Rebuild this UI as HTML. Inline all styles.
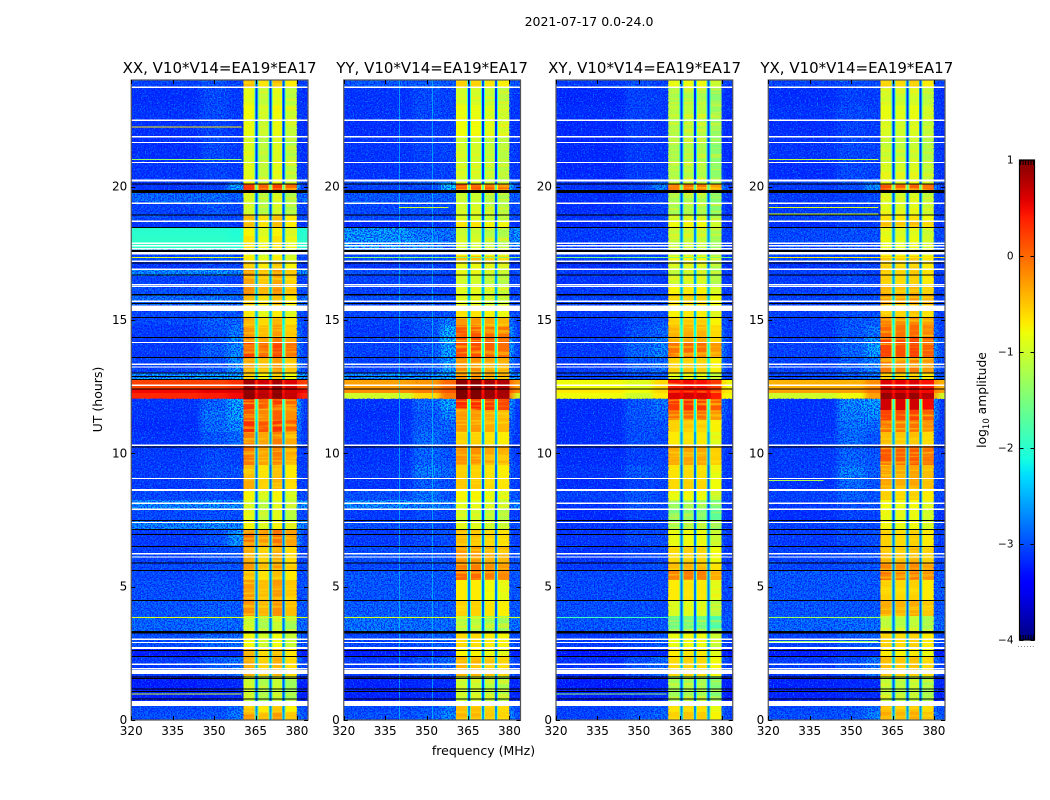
<!DOCTYPE html>
<html>
<head>
<meta charset="utf-8">
<title>2021-07-17 spectrogram</title>
<style>
html,body{margin:0;padding:0;background:#fff;}
svg{display:block;}
text{font-family:"DejaVu Sans","Liberation Sans",sans-serif;fill:#000;}
</style>
</head>
<body>
<svg id="figure" width="1050" height="800" viewBox="0 0 1050 800" xmlns="http://www.w3.org/2000/svg">
<defs id="figure-defs">
<linearGradient id="cbar-gradient" x1="0" y1="1" x2="0" y2="0"></linearGradient>
<filter id="soften-x" x="-10%" y="0" width="120%" height="100%" color-interpolation-filters="sRGB">
<feGaussianBlur stdDeviation="3 0"/>
</filter>
<filter id="grain-light" x="0" y="0" width="100%" height="100%" color-interpolation-filters="sRGB">
<feTurbulence type="fractalNoise" baseFrequency="0.75" numOctaves="1" seed="4"/>
<feColorMatrix type="matrix" values="0 0 0 0 0  0 0 0 0 0.62  0 0 0 0 1  6 0 0 0 -3"/>
</filter>
<filter id="grain-dark" x="0" y="0" width="100%" height="100%" color-interpolation-filters="sRGB">
<feTurbulence type="fractalNoise" baseFrequency="0.7" numOctaves="1" seed="11"/>
<feColorMatrix type="matrix" values="0 0 0 0 0  0 0 0 0 0.08  0 0 0 0 1  0 6 0 0 -2.6"/>
</filter>
<filter id="band-striation" x="0" y="0" width="100%" height="100%" color-interpolation-filters="sRGB">
<feTurbulence type="fractalNoise" baseFrequency="0.015 0.35" numOctaves="2" seed="7"/>
<feColorMatrix type="matrix" values="0 0 0 0 1  0 0 0 0 0.92  0 0 0 0 0.05  5 0 0 0 -2.4"/>
</filter>
</defs>
<text x="589" y="26" text-anchor="middle" font-size="12.5">2021-07-17 0.0-24.0</text>
<text x="219.6" y="73" text-anchor="middle" font-size="15">XX, V10*V14=EA19*EA17</text>
<text x="432.1" y="73" text-anchor="middle" font-size="15">YY, V10*V14=EA19*EA17</text>
<text x="644.6" y="73" text-anchor="middle" font-size="15">XY, V10*V14=EA19*EA17</text>
<text x="856.8" y="73" text-anchor="middle" font-size="15">YX, V10*V14=EA19*EA17</text>
<text x="483.5" y="755" text-anchor="middle" font-size="12.5">frequency (MHz)</text>
<text transform="translate(102,399.5) rotate(-90)" text-anchor="middle" font-size="12.5">UT (hours)</text>
<text transform="translate(986,400) rotate(-90)" text-anchor="middle" font-size="12.3">log<tspan font-size="8.5" dy="3">10</tspan><tspan dy="-3"> amplitude</tspan></text>
<text x="1026.5" y="647" text-anchor="middle" font-size="6" letter-spacing="1" fill="#555">......</text>
<g id="panels"></g>
<g id="colorbar"></g>
</svg>
<script>
// UT row boundaries, top of the plot to the bottom
const rowEdges = [24,23.7,23.06,22.5,21.86,20.93,20.25,20.1,19.88,19.76,19.39,18.94,18.71,18.45,18.15,17.63,17.4,17.18,16.88,16.65,16.31,15.94,15.56,15.11,14.81,14.36,14.14,13.58,13.01,12.79,12.41,12.26,12.04,11.63,11.25,10.8,10.31,9.56,9.08,8.63,8.25,7.88,7.5,7.13,6.53,5.89,5.59,5.25,4.5,3.9,3.3,2.7,2.4,1.65,0.71,0.53,0.3,0];

// log10 amplitude per row: low = 320-345 MHz, mid = 345-355, wing = 355-360.6, band = 360.6-380
const xxLow = [-3,-3.15,-3.1,-3.15,-3.15,-3.1,-3.1,-3.1,-3,-2.75,-3,-2.95,-3.1,-2,-1.98,-3,-2.95,-3.1,-2.5,-3,-2.9,-2.7,-2.95,-2.95,-3.05,-3.05,-3.05,-3,-2.4,0.2,0.5,0.35,-3.1,-3.1,-3.15,-3.1,-3.05,-3.05,-3.05,-2.95,-2.5,-2.95,-2.55,-3.05,-3,-2.95,-2.95,-2.9,-2.85,-2.75,-2.9,-3.3,-3.05,-3.3,-3.2,-2.95,-2.9];
const xxMid = [-2.9,-2.95,-2.95,-3,-2.95,-3,-3,-3,-2.9,-2.7,-2.85,-2.9,-3,-2,-1.98,-2.9,-2.85,-3,-2.45,-2.95,-2.8,-2.65,-2.85,-2.8,-2.85,-2.9,-2.8,-2.85,-2.4,0.2,0.55,0.4,-2.75,-2.65,-2.7,-2.85,-2.95,-2.9,-2.95,-2.9,-2.45,-2.9,-2.5,-2.9,-2.9,-2.85,-2.9,-2.85,-2.8,-2.7,-2.75,-3.2,-2.8,-3.25,-3.2,-2.9,-2.85];
const xxWing = [-3,-3.05,-3.05,-3.1,-3.05,-3.05,-2.6,-2.35,-2.6,-2.8,-2.95,-2.95,-3.05,-2.05,-2.02,-3,-2.9,-3,-2.5,-3,-2.85,-2.7,-2.85,-2.75,-2.6,-2.5,-2.5,-2.5,-2.3,0.3,0.6,0.5,-2.3,-2.35,-2.5,-2.7,-3,-2.9,-3,-2.95,-2.45,-2.9,-2.5,-2.4,-2.85,-2.85,-2.95,-2.9,-2.8,-2.7,-2.7,-3.2,-2.65,-3.2,-3.2,-2.7,-2.6];
const xxBand = [-0.55,-1,-0.9,-0.95,-1.05,-1,-0.9,0.15,0,-1.05,-1.1,-0.55,-0.55,-0.85,-0.75,-0.95,-0.8,-0.6,-0.35,-0.4,-0.3,-0.55,-0.8,-0.5,-0.35,-0.2,0.1,-0.35,-0.65,0.75,0.8,0.85,0.15,-0.05,0.2,-0.2,-0.2,-0.55,-0.45,-0.85,-1.05,-1,-0.85,-0.15,-0.45,-0.35,-0.55,-0.35,-0.3,-1.15,-0.9,-0.5,-0.45,-1.15,-1,-0.6,-0.35];

const yyLow = [-2.85,-3.1,-3.1,-3.15,-3.1,-3.1,-2.9,-3,-3,-2.85,-2.95,-2.95,-3.2,-2.4,-2.4,-3,-2.9,-3.1,-2.9,-3,-3,-2.9,-2.95,-3,-3.05,-3,-3,-3,-2.5,-0.3,-0.2,-1,-3.1,-3.15,-3.1,-3.1,-3.1,-3.05,-3.1,-2.9,-2.5,-3.05,-2.9,-3.05,-2.9,-2.95,-2.85,-2.85,-2.8,-2.65,-2.95,-3.3,-3.05,-3.25,-3.2,-2.95,-2.9];
const yyMid = [-2.8,-2.95,-2.95,-3.05,-3,-3,-2.8,-2.95,-2.95,-2.8,-2.9,-2.9,-3.1,-2.6,-2.55,-2.95,-2.85,-3,-2.85,-2.95,-2.95,-2.85,-2.9,-2.85,-2.9,-2.85,-2.85,-2.85,-2.5,-0.25,-0.1,-0.6,-2.75,-2.85,-2.8,-2.7,-2.75,-2.6,-2.8,-2.65,-2.55,-2.95,-2.85,-2.95,-2.9,-2.9,-2.85,-2.85,-2.8,-2.7,-2.85,-3.25,-2.9,-3.2,-3.2,-2.85,-2.8];
const yyWing = [-2.85,-3,-3,-3.05,-3,-3,-2.4,-2.2,-2.5,-2.8,-2.95,-2.9,-3.05,-2.65,-2.7,-3,-2.9,-3.05,-2.95,-3,-3,-2.9,-2.85,-2.6,-2.25,-2.2,-2.3,-2.35,-2.3,0,0.1,-0.1,-2.3,-2.5,-2.75,-2.85,-2.85,-2.75,-2.9,-2.85,-2.6,-3,-2.95,-2.9,-2.9,-2.85,-2.85,-2.85,-2.85,-2.7,-2.8,-3.2,-2.7,-3.2,-3.2,-2.6,-2.5];
const yyBand = [-0.6,-1.05,-0.9,-0.85,-1.05,-1.05,-1,0.1,0,-1.1,-1.05,-1,-0.7,-1.1,-1.05,-0.8,-0.5,-0.9,-0.95,-1.05,-0.95,-0.95,-0.7,-0.3,0.05,0.1,0.1,-0.25,-0.25,0.9,0.95,0.95,0.3,-0.3,-0.3,-0.6,-0.25,-0.6,-0.55,-0.8,-0.95,-1.05,-0.95,-0.5,-0.3,-0.15,-0.05,-0.75,-0.6,-1.2,-0.65,-0.8,-0.45,-1.1,-1,-0.5,-0.45];

const xyLow = [-3.05,-3.2,-3.15,-3.2,-3.2,-3.2,-3.1,-3.1,-3.1,-3.15,-3.15,-3.1,-3.2,-3.05,-3.05,-3.05,-3,-3.15,-3.05,-3.1,-3.05,-3,-3.05,-3.05,-3.1,-3.05,-3.05,-3.05,-3,-0.8,-0.7,-0.8,-3.15,-3.15,-3.15,-3.15,-3.15,-3.1,-3.15,-3,-3.1,-3.2,-3.1,-3.1,-3.1,-3.05,-2.95,-2.95,-2.9,-2.85,-3.05,-3.35,-3.15,-3.3,-3.2,-3,-3];
const xyMid = [-2.9,-3,-3,-3.05,-3.05,-3.05,-3,-3,-3,-3.05,-3.05,-3,-3.1,-3,-3,-3,-2.95,-3.05,-3,-3,-3,-2.95,-2.95,-2.95,-2.9,-2.85,-2.75,-2.8,-2.9,-0.9,-0.8,-1,-2.85,-2.85,-2.9,-2.9,-3,-2.85,-3,-2.85,-2.85,-3.05,-3,-2.95,-3,-2.95,-2.95,-2.95,-2.9,-2.85,-2.95,-3.25,-2.9,-3.25,-3.2,-2.9,-2.85];
const xyWing = [-3,-3.05,-3.05,-3.1,-3.1,-3.05,-2.8,-2.55,-2.8,-3,-3,-3,-3.1,-3,-3,-3.05,-3,-3.05,-3,-3.05,-3,-2.95,-2.95,-2.85,-2.75,-2.6,-2.55,-2.7,-2.8,-0.6,-0.6,-0.7,-2.65,-2.75,-2.9,-2.95,-3,-2.95,-3,-2.95,-2.95,-3.05,-3,-2.95,-2.95,-2.9,-2.95,-2.95,-2.95,-2.85,-2.85,-3.25,-2.75,-3.2,-3.2,-2.8,-2.75];
const xyBand = [-0.85,-1.25,-1.15,-1.2,-1.25,-1.2,-1.1,-0.1,-0.1,-1.25,-1.25,-1,-0.8,-1.1,-1.1,-1.05,-0.8,-1,-1.1,-1,-0.75,-0.6,-0.75,-0.55,-0.4,-0.4,-0.05,-0.55,-0.9,0.45,0.4,0.6,0.25,-0.05,-0.55,-0.7,-0.35,-0.65,-0.6,-0.85,-1.35,-1.5,-1.3,-0.85,-0.6,-0.45,-0.15,-0.7,-0.95,-1.6,-0.85,-0.7,-0.6,-1.3,-1.2,-0.65,-0.55];

const yxLow = [-3,-3.15,-3.1,-3.15,-3.1,-3.15,-2.95,-3.05,-3.05,-3.05,-3.05,-3,-3.15,-2.95,-2.95,-3,-2.95,-3.1,-3,-3.05,-3,-3,-3,-3.05,-3.05,-3,-3,-3,-2.95,-0.4,-0.3,-1,-3.1,-3.1,-3.1,-3.05,-3.05,-3.05,-3.1,-3,-3.05,-3.15,-3,-3.05,-3,-2.95,-2.85,-2.85,-2.85,-2.75,-3,-3.3,-3.05,-3.25,-3.2,-2.95,-2.9];
const yxMid = [-2.9,-3,-2.95,-3,-2.95,-2.95,-2.9,-2.95,-3,-3,-3,-2.95,-3.05,-2.9,-2.9,-2.95,-2.9,-3,-2.95,-2.95,-2.95,-2.9,-2.9,-2.85,-2.85,-2.75,-2.75,-2.8,-2.8,-0.4,-0.3,-0.8,-2.5,-2.55,-2.65,-2.7,-2.75,-2.55,-2.7,-2.75,-2.9,-3,-2.9,-2.95,-2.95,-2.9,-2.85,-2.85,-2.85,-2.7,-2.85,-3.2,-2.9,-3.2,-3.2,-2.9,-2.85];
const yxWing = [-2.95,-3.05,-3,-3.05,-3,-3,-2.7,-2.45,-2.7,-2.95,-3,-2.95,-3.05,-2.9,-2.9,-3,-2.95,-3,-3,-3,-2.95,-2.9,-2.9,-2.8,-2.65,-2.4,-2.35,-2.55,-2.6,-0.2,-0.1,-0.3,-2.35,-2.45,-2.7,-2.85,-2.85,-2.8,-2.85,-2.85,-2.85,-3,-2.95,-2.9,-2.9,-2.85,-2.85,-2.85,-2.85,-2.7,-2.75,-3.2,-2.65,-3.2,-3.2,-2.7,-2.55];
const yxBand = [-0.6,-1.05,-0.9,-1,-1.1,-1,-0.9,0.1,0.1,-1,-0.95,-0.7,-0.5,-0.95,-0.9,-0.8,-0.55,-0.6,-0.55,-0.6,-0.45,-0.3,-0.55,-0.2,-0.05,0.15,0.15,-0.15,-0.6,0.55,0.6,0.85,0.6,0.15,-0.1,-0.5,0.05,-0.35,-0.35,-0.6,-0.85,-0.9,-0.85,-0.6,-0.45,-0.2,-0.1,-0.6,-0.4,-1.15,-0.6,-0.75,-0.5,-1.15,-1,-0.5,-0.4];

// Level of the narrow channels between the four sub-bands, per row
const gapLevels = [-3,-3.15,-3.15,-3.15,-3.15,-3.15,-2.9,-1.7,-2.2,-3,-3.05,-3,-3,-2.7,-2.7,-3,-2.6,-2.8,-2.5,-2.6,-2.5,-2.4,-2.5,-2.2,-2.1,-2.1,-2.1,-2.2,-2.3,0.3,0.45,0.5,-2.1,-2.2,-2.3,-2.6,-2.7,-2.9,-2.95,-3,-3.05,-3.05,-2.95,-2.8,-2.8,-2.8,-2.7,-2.8,-2.95,-2.85,-2.6,-2.7,-2.5,-2.95,-2.9,-2.7,-2.6];

// Per sub-band offsets to each panel's band level
const xxBandTilt = [0.1,-0.1,0.1,-0.15];
const yyBandTilt = [0.05,0.05,-0.05,-0.12];
const xyBandTilt = [0,0.05,0.02,-0.2];
const yxBandTilt = [0.05,0,0.05,-0.1];

// Single-row interference: UT, start MHz, end MHz, level
const xxStreaks = [[22.26,320,360,-0.7],[21.03,320,360,-1.4],[17.37,320,360.6,-0.9],[1,320,360,-1],[3.87,320,384,-0.9]];
const yyStreaks = [[17.37,320,384,-1.4],[3.87,320,384,-0.95],[3.34,320,384,-1.1],[19.24,340,358,-1]];
const xyStreaks = [[17.37,320,384,-1.5],[3.87,320,360.6,-1.9],[3.34,320,360.6,-1.7],[1,320,360,-1.4]];
const yxStreaks = [[21.03,320,360,-1.1],[19.24,320,360,-0.9],[18.99,320,360,-1],[17.37,320,384,-0.7],[3.87,320,360.6,-1.3],[3.34,320,384,-1.1],[9,320,340,-1.2],[2.96,320,360,-1.4]];

// Constant-frequency interference seen only in YY (MHz)
const yyVerticalLines = [340,352];
const verticalLineLevel = -2.25;

// Flagged integrations, shared by all panels (UT)
const whiteLines = [23.73,22.49,21.87,21.66,20.91,19.38,18.7,17.88,17.78,17.67,17.2,16.9,16.32,16.26,15.7,14.16,13.34,13.24,12.55,10.3,9.06,8.13,7.9,7.41,6.24,6.11,3.03,2.91,2.09,1.92];
const whiteSpans = [[20.26,20.19],[17.56,17.45],[15.54,15.34],[8.66,8.58],[2.74,2.66],[1.875,1.725],[0.71,0.525]];
const blackLines = [20.1,18.93,18.46,17.13,16.68,15.61,15.1,14.35,13.6,13.01,12.89,12.76,12.41,10.23,7.49,7.15,6.96,6.51,5.88,5.61,4.49,2.6,2.39,1.62,1.56,1.17,1.06,0.79];
const blackSpans = [[19.88,19.76],[17.63,17.55],[15.98,15.92],[3.33,3.25]];

// Axis ticks
const freqTicks = [320,335,350,365,380];
const utTicks = [0,5,10,15,20];
const colorbarValues = [1,0,-1,-2,-3,-4];
const colorbarLabels = ['1','0','\u22121','\u22122','\u22123','\u22124'];
const panelNames = ['xx','yy','xy','yx'];
const panelLeftEdges = [131.25,343.75,556,768.25];

const SVG_NS = 'http://www.w3.org/2000/svg';
const FREQ_MIN = 320, FREQ_MAX = 384, UT_MAX = 24;
const PANEL_W = 176.75, PLOT_TOP = 80, PLOT_BOTTOM = 720;
const panelSeries = [
  {low:xxLow,mid:xxMid,wing:xxWing,band:xxBand,tilt:xxBandTilt,streaks:xxStreaks,verticals:[]},
  {low:yyLow,mid:yyMid,wing:yyWing,band:yyBand,tilt:yyBandTilt,streaks:yyStreaks,verticals:yyVerticalLines},
  {low:xyLow,mid:xyMid,wing:xyWing,band:xyBand,tilt:xyBandTilt,streaks:xyStreaks,verticals:[]},
  {low:yxLow,mid:yxMid,wing:yxWing,band:yxBand,tilt:yxBandTilt,streaks:yxStreaks,verticals:[]}
];

function interp(f, pts) {
  if (f <= pts[0][0]) return pts[0][1];
  for (let i = 1; i < pts.length; i++) {
    if (f <= pts[i][0]) {
      const a = pts[i - 1], b = pts[i];
      return a[1] + (b[1] - a[1]) * (f - a[0]) / (b[0] - a[0]);
    }
  }
  return pts[pts.length - 1][1];
}
function jet(level) {
  const f = Math.max(0, Math.min(1, (level + 4) / 5));
  const r = interp(f, [[0.35,0],[0.66,1],[0.89,1],[1,0.5]]);
  const g = interp(f, [[0.125,0],[0.375,1],[0.64,1],[0.91,0]]);
  const b = interp(f, [[0,0.5],[0.11,1],[0.34,1],[0.65,0]]);
  return 'rgb(' + Math.round(r * 255) + ',' + Math.round(g * 255) + ',' + Math.round(b * 255) + ')';
}
function xScale(panel, mhz) {
  return panelLeftEdges[panel] + (mhz - FREQ_MIN) / (FREQ_MAX - FREQ_MIN) * PANEL_W;
}
function yScale(ut) {
  return PLOT_BOTTOM - ut / UT_MAX * (PLOT_BOTTOM - PLOT_TOP);
}
function makeRect(parent, x, y, w, h, fill) {
  const el = document.createElementNS(SVG_NS, 'rect');
  el.setAttribute('x', x.toFixed(2));
  el.setAttribute('y', y.toFixed(2));
  el.setAttribute('width', Math.max(w, 0).toFixed(2));
  el.setAttribute('height', Math.max(h, 0).toFixed(2));
  el.setAttribute('fill', fill);
  parent.appendChild(el);
  return el;
}
function makeGroup(parent) {
  const el = document.createElementNS(SVG_NS, 'g');
  parent.appendChild(el);
  return el;
}
function makeLine(parent, x1, y1, x2, y2) {
  const el = document.createElementNS(SVG_NS, 'line');
  el.setAttribute('x1', x1);
  el.setAttribute('y1', y1);
  el.setAttribute('x2', x2);
  el.setAttribute('y2', y2);
  el.setAttribute('stroke', '#000');
  el.setAttribute('stroke-width', '1');
  parent.appendChild(el);
  return el;
}
function makeLabel(parent, x, y, anchor, content) {
  const el = document.createElementNS(SVG_NS, 'text');
  el.setAttribute('x', x);
  el.setAttribute('y', y);
  el.setAttribute('text-anchor', anchor);
  el.setAttribute('font-size', '12');
  el.textContent = content;
  parent.appendChild(el);
  return el;
}

const panelsRoot = document.getElementById('panels');
const figureDefs = document.getElementById('figure-defs');
panelNames.forEach(function (name, p) {
  const s = panelSeries[p];
  const bandEdges = [360.6,365.4,370.4,375.2,380];
  const gapCentres = [365.4,370.4,375.2];
  const left = panelLeftEdges[p];

  const clip = document.createElementNS(SVG_NS, 'clipPath');
  clip.setAttribute('id', 'plot-clip-' + name);
  makeRect(clip, left, PLOT_TOP, PANEL_W, PLOT_BOTTOM - PLOT_TOP, '#000');
  figureDefs.appendChild(clip);

  const panel = makeGroup(panelsRoot);
  
  

  const clipped = makeGroup(panel);
  clipped.setAttribute('clip-path', 'url(#plot-clip-' + name + ')');
  
  

  const soft = makeGroup(clipped);
  soft.setAttribute('filter', 'url(#soften-x)');
  soft.setAttribute('shape-rendering', 'crispEdges');
  
  

  const cells = makeGroup(clipped);
  cells.setAttribute('shape-rendering', 'crispEdges');
  
  

  const gaps = [];

  for (let r = 0; r < rowEdges.length - 1; r++) {
    const y0 = yScale(rowEdges[r]);
    const h = yScale(rowEdges[r + 1]) - y0;
    const softColumns = [
      [308,345,s.low[r]],
      [345,355,s.mid[r]],
      [355,366,s.wing[r]],
      [375,381.5,s.wing[r]],
      [381.5,396,s.low[r]]
    ];
    softColumns.forEach(function (c) {
      const x0 = xScale(p, c[0]);
      const cell = makeRect(soft, x0, y0, xScale(p, c[1]) - x0, h + 0.4, jet(c[2]));
      
      
    });
    const bandColumns = [
      [bandEdges[0],bandEdges[1],s.band[r] + s.tilt[0]],
      [bandEdges[1],bandEdges[2],s.band[r] + s.tilt[1]],
      [bandEdges[2],bandEdges[3],s.band[r] + s.tilt[2]],
      [bandEdges[3],bandEdges[4],s.band[r] + s.tilt[3]]
    ];
    bandColumns.forEach(function (c) {
      const x0 = xScale(p, c[0]);
      const cell = makeRect(cells, x0, y0, xScale(p, c[1]) - x0, h + 0.4, jet(c[2]));
      
      
    });
    // fine striation on the band rows, except the saturated burst
    if (s.band[r] < 0.5) {
      const x0 = xScale(p, bandEdges[0]);
      const striation = makeRect(clipped, x0, y0, xScale(p, bandEdges[4]) - x0, h, '#000');
      striation.setAttribute('filter', 'url(#band-striation)');
      striation.setAttribute('opacity', '0.5');
      
      
    }
    gaps.push([y0, h, gapLevels[r], s.band[r]]);
    // receiver noise texture on off-band rows only; bright rows stay smooth
    if (s.low[r] < -2.3) {
      [['grain-light',0.7],['grain-dark',0.8]].forEach(function (g) {
        [[320,360.6],[380,384]].forEach(function (range) {
          const x0 = xScale(p, range[0]);
          const grain = makeRect(clipped, x0, y0, xScale(p, range[1]) - x0, h, '#000');
          grain.setAttribute('filter', 'url(#' + g[0] + ')');
          grain.setAttribute('opacity', g[1]);
          
          
        });
      });
    }
  }

  const gapGroup = makeGroup(clipped);
  gapGroup.setAttribute('shape-rendering', 'crispEdges');
  
  
  gaps.forEach(function (row) {
    gapCentres.forEach(function (g) {
      const haloX = xScale(p, g - 0.7);
      const halo = makeRect(gapGroup, haloX, row[0], xScale(p, g + 0.7) - haloX, row[1] + 0.4, jet((row[2] + row[3]) / 2));
      
      
      const x0 = xScale(p, g - 0.35);
      const gapCell = makeRect(gapGroup, x0, row[0], xScale(p, g + 0.35) - x0, row[1] + 0.4, jet(row[2]));
      
      
    });
  });

  const marks = makeGroup(panel);
  marks.setAttribute('shape-rendering', 'crispEdges');
  
  

  s.verticals.forEach(function (mhz) {
    const v = makeRect(marks, xScale(p, mhz), PLOT_TOP, 1, PLOT_BOTTOM - PLOT_TOP, jet(verticalLineLevel));
    v.setAttribute('opacity', '0.55');
    
    
  });
  s.streaks.forEach(function (k) {
    const x0 = xScale(p, k[1]);
    const streak = makeRect(marks, x0, yScale(k[0]), xScale(p, k[2]) - x0, 1, jet(k[3]));
    
    
  });
  whiteLines.forEach(function (t) {
    const line = makeRect(marks, left, yScale(t) - 0.65, PANEL_W, 1.3, '#fff');
    
    
  });
  whiteSpans.forEach(function (span) {
    const y0 = yScale(span[0]);
    const band = makeRect(marks, left, y0, PANEL_W, yScale(span[1]) - y0, '#fff');
    
    
  });
  blackLines.forEach(function (t) {
    const line = makeRect(marks, left, yScale(t) - 0.5, PANEL_W, 1, '#000');
    
    
  });
  blackSpans.forEach(function (span) {
    const y0 = yScale(span[0]);
    const band = makeRect(marks, left, y0, PANEL_W, yScale(span[1]) - y0, '#000');
    
    
  });

  const frame = document.createElementNS(SVG_NS, 'rect');
  frame.setAttribute('x', left.toFixed(2));
  frame.setAttribute('y', PLOT_TOP);
  frame.setAttribute('width', PANEL_W);
  frame.setAttribute('height', PLOT_BOTTOM - PLOT_TOP);
  frame.setAttribute('fill', 'none');
  frame.setAttribute('stroke', '#555');
  frame.setAttribute('stroke-width', '1.2');
  
  
  panel.appendChild(frame);

  const xAxis = makeGroup(panel);
  
  
  freqTicks.forEach(function (mhz) {
    const x = Math.round(xScale(p, mhz)) + 0.5;
    const bottomTick = makeLine(xAxis, x, PLOT_BOTTOM, x, PLOT_BOTTOM - 4);
    
    
    const topTick = makeLine(xAxis, x, PLOT_TOP, x, PLOT_TOP + 4);
    
    
    const label = makeLabel(xAxis, xScale(p, mhz), PLOT_BOTTOM + 15, 'middle', String(mhz));
    
    
  });

  const yAxis = makeGroup(panel);
  
  
  utTicks.forEach(function (ut) {
    const y = Math.round(yScale(ut)) + 0.5;
    const leftTick = makeLine(yAxis, left, y, left + 4, y);
    
    
    const rightTick = makeLine(yAxis, left + PANEL_W, y, left + PANEL_W - 4, y);
    
    
    const label = makeLabel(yAxis, left - 4, yScale(ut) + 4, 'end', String(ut));
    
    
  });
});

// Colorbar
const CB_LEFT = 1019.5, CB_WIDTH = 15, CB_TOP = 160, CB_BOTTOM = 640;
function colorbarY(level) {
  return CB_BOTTOM - (level + 4) / 5 * (CB_BOTTOM - CB_TOP);
}
const gradient = document.getElementById('cbar-gradient');
for (let i = 0; i <= 50; i++) {
  const stop = document.createElementNS(SVG_NS, 'stop');
  stop.setAttribute('offset', (i * 2) + '%');
  stop.setAttribute('stop-color', jet(-4 + i / 10));
  gradient.appendChild(stop);
}
const cbarRoot = document.getElementById('colorbar');
const cbarFill = makeRect(cbarRoot, CB_LEFT, CB_TOP, CB_WIDTH, CB_BOTTOM - CB_TOP, 'url(#cbar-gradient)');
cbarFill.setAttribute('stroke', '#000');
cbarFill.setAttribute('stroke-width', '1.2');


colorbarValues.forEach(function (value, i) {
  const y = Math.round(colorbarY(value)) + 0.5;
  const tickL = makeLine(cbarRoot, CB_LEFT, y, CB_LEFT + 4, y);
  
  
  const tickR = makeLine(cbarRoot, CB_LEFT + CB_WIDTH, y, CB_LEFT + CB_WIDTH - 4, y);
  
  
  const label = makeLabel(cbarRoot, CB_LEFT - 6, colorbarY(value) + 3.5, 'end', colorbarLabels[i]);
  label.setAttribute('font-size', '10.5');
  
  
});
for (let i = 0; i < 6; i++) {
  const x = CB_LEFT + 1 + i * 2.6;
  const topTick = makeLine(cbarRoot, x, CB_TOP, x, CB_TOP + 5);
  
  
  const bottomTick = makeLine(cbarRoot, x, CB_BOTTOM, x, CB_BOTTOM - 5);
  
  
}
</script>
</body>
</html>
